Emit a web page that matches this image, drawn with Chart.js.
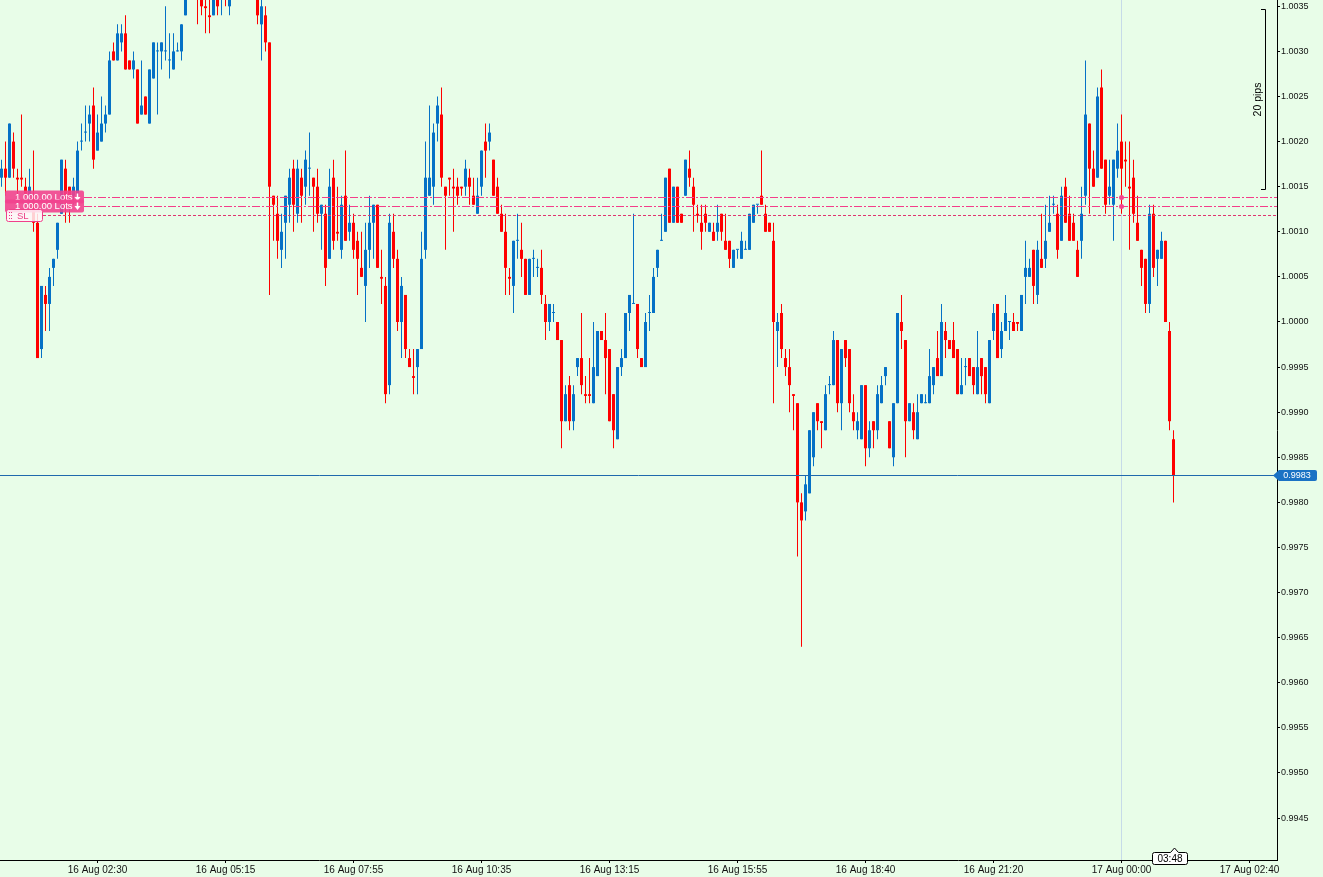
<!DOCTYPE html>
<html>
<head>
<meta charset="utf-8">
<title>candles</title>
<script src="https://cdn.jsdelivr.net/npm/chart.js@4.4.1/dist/chart.umd.min.js"></script>
<style>
html,body{margin:0;padding:0;background:#e8fde8;overflow:hidden;}
#wrap{width:1323px;height:877px;position:relative;}
</style>
</head>
<body>
<div id="wrap"><canvas id="myChart"></canvas></div>
<script>
'use strict';
// 5 min candles (index 0 = first candle on the left)
let open=[
1.0016,1.0017,1.0016,1.0020,1.0016,1.0016,1.0015,1.0014,1.0014,1.0011,
0.9997,1.0003,1.0002,1.0006,1.0008,1.0012,1.0017,1.0015,1.0014,1.0014,
1.0020,1.0021,1.0022,1.0024,1.0019,1.0020,1.0022,1.0023,1.0030,1.0029,
1.0031,1.0032,1.0029,1.0028,1.0028,1.0023,1.0025,1.0022,1.0027,1.0030,
1.0030,1.0030,1.0029,1.0028,1.0030,1.0030,1.0034,1.0037,1.0039,1.0038,
1.0037,1.0035,1.0034,1.0034,1.0037,1.0036,1.0038,1.0035,1.0038,1.0040,
1.0038,1.0040,1.0039,1.0038,1.0037,1.0033,1.0034,1.0031,1.0014,1.0012,
1.0008,1.0011,1.0013,1.0017,1.0012,1.0016,1.0015,1.0017,1.0016,1.0015,
1.0012,1.0012,1.0007,1.0016,1.0010,1.0008,1.0014,1.0010,1.0011,1.0009,
1.0006,1.0004,1.0008,1.0011,1.0013,1.0005,1.0004,0.9993,1.0010,1.0007,
1.0000,1.0003,0.9996,0.9994,0.9995,0.9997,1.0008,1.0014,1.0015,1.0022,
1.0023,1.0015,1.0016,1.0015,1.0015,1.0015,1.0015,1.0016,1.0014,1.0012,
1.0015,1.0020,1.0020,1.0018,1.0015,1.0012,1.0010,1.0005,1.0004,1.0009,
1.0008,1.0007,1.0003,1.0007,1.0006,1.0006,1.0002,1.0000,1.0001,1.0000,
0.9998,0.9989,0.9993,0.9989,0.9995,0.9996,0.9992,0.9992,0.9991,0.9994,
0.9999,0.9998,0.9997,0.9992,0.9987,0.9995,0.9996,1.0001,1.0002,1.0002,
0.9996,0.9995,1.0001,1.0001,1.0006,1.0009,1.0010,1.0017,1.0011,1.0015,
1.0012,1.0014,1.0017,1.0015,1.0012,1.0011,1.0012,1.0010,1.0010,1.0010,
1.0012,1.0009,1.0009,1.0006,1.0008,1.0007,1.0008,1.0008,1.0011,1.0013,
1.0014,1.0012,1.0011,1.0009,0.9999,1.0001,0.9996,0.9995,0.9992,0.9991,
0.9980,0.9979,0.9981,0.9985,0.9991,0.9989,0.9988,0.9993,0.9993,0.9998,
0.9991,0.9998,0.9997,0.9990,0.9988,0.9987,0.9993,0.9986,0.9989,0.9988,
0.9991,0.9994,0.9989,0.9985,0.9991,1.0000,0.9998,0.9989,0.9990,0.9987,
0.9991,0.9991,0.9991,0.9993,0.9996,0.9994,0.9999,0.9998,0.9998,0.9997,
0.9992,0.9995,0.9996,0.9995,0.9992,0.9996,0.9995,0.9991,0.9999,1.0002,
0.9997,0.9999,1.0000,1.0000,1.0000,0.9999,1.0005,1.0005,1.0008,1.0003,
1.0007,1.0007,1.0010,1.0013,1.0012,1.0009,1.0015,1.0012,1.0011,1.0008,
1.0009,1.0014,1.0022,1.0017,1.0016,1.0026,1.0018,1.0014,1.0013,1.0017,
1.0020,1.0018,1.0015,1.0016,1.0011,1.0008,1.0007,1.0002,1.0012,1.0007,
1.0007,1.0009,0.9999,0.9987];
let high=[
1.0018,1.0020,1.0022,1.0021,1.0017,1.0023,1.0016,1.0017,1.0019,1.0012,
1.0004,1.0004,1.0006,1.0007,1.0011,1.0018,1.0018,1.0015,1.0016,1.0020,
1.0022,1.0024,1.0024,1.0026,1.0023,1.0025,1.0024,1.0030,1.0031,1.0033,
1.0033,1.0034,1.0029,1.0030,1.0028,1.0029,1.0025,1.0028,1.0031,1.0031,
1.0031,1.0035,1.0032,1.0032,1.0031,1.0033,1.0037,1.0040,1.0040,1.0039,
1.0038,1.0037,1.0036,1.0038,1.0038,1.0039,1.0039,1.0039,1.0041,1.0041,
1.0041,1.0041,1.0040,1.0039,1.0038,1.0036,1.0035,1.0031,1.0014,1.0014,
1.0012,1.0014,1.0017,1.0018,1.0018,1.0017,1.0019,1.0021,1.0016,1.0017,
1.0013,1.0013,1.0017,1.0018,1.0015,1.0014,1.0019,1.0013,1.0012,1.0010,
1.0010,1.0011,1.0014,1.0013,1.0013,1.0008,1.0005,1.0012,1.0012,1.0008,
1.0005,1.0003,0.9997,0.9997,0.9997,1.0010,1.0020,1.0024,1.0022,1.0025,
1.0026,1.0015,1.0016,1.0017,1.0016,1.0015,1.0018,1.0017,1.0016,1.0016,
1.0019,1.0022,1.0022,1.0018,1.0016,1.0013,1.0012,1.0006,1.0009,1.0012,
1.0011,1.0007,1.0007,1.0008,1.0007,1.0008,1.0003,1.0002,1.0002,1.0000,
0.9998,0.9993,0.9994,0.9993,0.9996,1.0001,0.9994,0.9996,1.0000,0.9999,
0.9999,1.0001,0.9997,0.9992,0.9995,0.9997,1.0001,1.0003,1.0012,1.0002,
0.9996,1.0001,1.0003,1.0006,1.0008,1.0012,1.0016,1.0017,1.0015,1.0015,
1.0012,1.0018,1.0019,1.0016,1.0013,1.0013,1.0013,1.0011,1.0011,1.0013,
1.0012,1.0012,1.0009,1.0008,1.0008,1.0010,1.0009,1.0012,1.0013,1.0013,
1.0019,1.0013,1.0011,1.0011,1.0001,1.0002,0.9997,0.9997,0.9992,0.9991,
0.9981,0.9983,0.9988,0.9990,0.9991,0.9989,0.9993,0.9994,0.9999,0.9998,
0.9997,0.9998,0.9997,0.9992,0.9990,0.9993,0.9993,0.9989,0.9989,0.9993,
0.9994,0.9995,0.9989,0.9991,1.0001,1.0003,0.9998,0.9991,0.9991,0.9992,
0.9992,0.9992,0.9997,0.9995,0.9999,1.0002,1.0000,0.9998,1.0000,0.9997,
0.9996,0.9996,0.9996,0.9995,0.9999,0.9996,0.9995,0.9998,1.0002,1.0002,
1.0000,1.0003,1.0000,1.0001,1.0000,1.0003,1.0009,1.0007,1.0008,1.0009,
1.0012,1.0013,1.0014,1.0014,1.0013,1.0015,1.0016,1.0014,1.0012,1.0009,
1.0015,1.0029,1.0022,1.0019,1.0026,1.0028,1.0018,1.0018,1.0018,1.0022,
1.0023,1.0020,1.0020,1.0018,1.0014,1.0008,1.0007,1.0013,1.0013,1.0008,
1.0010,1.0009,1.0000,0.9988];
let low=[
1.0015,1.0014,1.0016,1.0016,1.0014,1.0015,1.0014,1.0013,1.0010,0.9996,
0.9996,0.9999,0.9999,1.0004,1.0007,1.0012,1.0011,1.0011,1.0013,1.0014,
1.0019,1.0020,1.0020,1.0017,1.0019,1.0020,1.0021,1.0023,1.0029,1.0029,
1.0030,1.0028,1.0028,1.0027,1.0022,1.0023,1.0023,1.0022,1.0027,1.0023,
1.0028,1.0029,1.0027,1.0028,1.0030,1.0029,1.0034,1.0036,1.0036,1.0033,
1.0034,1.0032,1.0032,1.0034,1.0034,1.0034,1.0035,1.0034,1.0037,1.0037,
1.0037,1.0037,1.0037,1.0036,1.0033,1.0029,1.0030,1.0003,1.0009,1.0007,
1.0006,1.0007,1.0011,1.0010,1.0011,1.0011,1.0013,1.0014,1.0010,1.0011,
1.0008,1.0004,1.0007,1.0008,1.0009,1.0007,1.0009,1.0009,1.0007,1.0003,
1.0005,1.0000,1.0006,1.0007,1.0006,1.0002,0.9991,0.9992,1.0006,0.9999,
0.9996,0.9996,0.9995,0.9992,0.9992,0.9997,1.0007,1.0014,1.0013,1.0020,
1.0015,1.0008,1.0014,1.0010,1.0013,1.0014,1.0014,1.0013,1.0013,1.0012,
1.0014,1.0016,1.0019,1.0014,1.0012,1.0010,1.0003,1.0003,1.0001,1.0007,
1.0005,1.0003,1.0003,1.0005,1.0005,1.0002,0.9998,0.9999,1.0000,0.9998,
0.9986,0.9989,0.9988,0.9988,0.9994,0.9992,0.9991,0.9991,0.9991,0.9994,
0.9998,0.9992,0.9989,0.9986,0.9987,0.9994,0.9996,0.9999,1.0002,0.9996,
0.9995,0.9995,0.9999,1.0001,1.0005,1.0009,1.0010,1.0011,1.0011,1.0011,
1.0011,1.0014,1.0015,1.0010,1.0011,1.0008,1.0010,1.0010,1.0009,1.0009,
1.0009,1.0008,1.0006,1.0006,1.0007,1.0007,1.0008,1.0008,1.0011,1.0012,
1.0013,1.0010,1.0010,0.9991,0.9995,0.9996,0.9994,0.9990,0.9988,0.9974,
0.9964,0.9978,0.9981,0.9984,0.9988,0.9986,0.9988,0.9992,0.9993,0.9990,
0.9988,0.9995,0.9990,0.9988,0.9987,0.9987,0.9984,0.9985,0.9986,0.9987,
0.9991,0.9993,0.9986,0.9984,0.9991,0.9997,0.9985,0.9989,0.9987,0.9987,
0.9991,0.9991,0.9991,0.9992,0.9994,0.9994,0.9996,0.9997,0.9996,0.9992,
0.9992,0.9993,0.9994,0.9992,0.9992,0.9992,0.9991,0.9991,0.9998,0.9996,
0.9996,0.9999,0.9998,0.9999,0.9999,0.9999,1.0002,1.0005,1.0002,1.0002,
1.0006,1.0006,1.0010,1.0012,1.0007,1.0009,1.0011,1.0009,1.0009,1.0005,
1.0007,1.0013,1.0012,1.0015,1.0016,1.0017,1.0012,1.0013,1.0009,1.0016,
1.0012,1.0015,1.0008,1.0011,1.0009,1.0004,1.0001,1.0001,1.0005,1.0004,
1.0007,1.0000,0.9988,0.9980];
let close=[
1.0017,1.0016,1.0022,1.0017,1.00158,1.00158,1.0014,1.0015,1.0011,0.9996,
1.0004,1.0002,1.0005,1.0007,1.0011,1.0018,1.0014,1.0014,1.0015,1.0019,
1.0020,1.0021,1.0023,1.0018,1.0021,1.0022,1.0023,1.0029,1.0029,1.0032,
1.0032,1.0028,1.0028,1.0029,1.0022,1.0024,1.0023,1.0028,1.0031,1.0030,
1.0031,1.0030,1.0029,1.0030,1.0030,1.0033,1.0036,1.0039,1.0038,1.0037,
1.0035,1.00348,1.00338,1.0037,1.0035,1.0038,1.0036,1.0038,1.0040,1.0038,
1.0040,1.0039,1.0038,1.0037,1.0034,1.0035,1.0031,1.0015,1.0013,1.0009,
1.0010,1.0014,1.0016,1.0013,1.0017,1.0014,1.0018,1.0017,1.0015,1.0012,
1.0013,1.0006,1.0015,1.0009,1.00098,1.0013,1.0009,1.0011,1.0008,1.0007,
1.0005,1.0008,1.0011,1.0013,1.0006,1.00048,0.9992,1.0011,1.0007,1.0000,
1.0004,0.9997,0.9995,0.99938,0.9997,1.0007,1.0016,1.0016,1.0021,1.0024,
1.0016,1.0014,1.00158,1.00148,1.0014,1.00148,1.0017,1.0015,1.0013,1.0014,
1.0019,1.0019,1.0021,1.0014,1.0012,1.0010,1.0006,1.00048,1.0009,1.0009,
1.0007,1.0003,1.0007,1.0007,1.0006,1.0003,1.0000,1.0002,1.0001,0.9998,
0.9989,0.9992,0.9989,0.9992,0.9996,0.9993,0.99918,0.99918,0.9995,0.9999,
0.9998,0.9996,0.9989,0.9988,0.9995,0.9996,1.0001,1.0003,1.0002,0.9997,
0.9995,1.0000,1.0001,1.0005,1.0008,1.0009,1.0016,1.0011,1.0015,1.0011,
1.0011,1.0018,1.0016,1.0013,1.00118,1.0010,1.0011,1.0011,1.0009,1.0011,
1.0010,1.0008,1.0007,1.0008,1.0008,1.0009,1.0008,1.0012,1.0013,1.0013,
1.0013,1.0010,1.0010,1.0000,1.0000,0.9997,0.9995,0.9993,0.99918,0.9980,
0.9978,0.9982,0.9988,0.9990,0.9989,0.99888,0.9992,0.9993,0.9998,0.9991,
0.9997,0.9996,0.9991,0.9989,0.9989,0.9993,0.9986,0.9988,0.9988,0.9992,
0.9993,0.9995,0.9986,0.9991,1.0001,0.9999,0.9989,0.9991,0.9988,0.9990,
0.9992,0.9991,0.9994,0.9995,0.9994,1.0000,0.9998,0.9997,0.9996,0.9992,
0.9993,0.9995,0.9994,0.9993,0.9995,0.9994,0.9992,0.9998,1.0001,0.9996,
0.9999,1.0001,1.0000,0.9999,0.99998,1.0003,1.0006,1.0006,1.0004,1.0008,
1.0006,1.0009,1.0011,1.0013,1.0008,1.0014,1.0011,1.0009,1.0009,1.0005,
1.0012,1.0023,1.0017,1.0015,1.0025,1.0017,1.0013,1.0015,1.0018,1.0019,
1.0017,1.00178,1.00148,1.0012,1.0009,1.0006,1.0002,1.0012,1.0006,1.0008,
1.0009,1.0000,0.9989,0.9983];

let tickIdx=[24,56,88,120,152,184,216,248,280,312];
let tickText=['16 Aug 02:30','16 Aug 05:15','16 Aug 07:55','16 Aug 10:35','16 Aug 13:15',
  '16 Aug 15:55','16 Aug 18:40','16 Aug 21:20','17 Aug 00:00','17 Aug 02:40'];
let orderLevels=[1.00139,1.00129];
let stopLevel=1.00119;
let lastPrice=close[close.length-1];
let dayBreak=280;
let countdown='03:48';
let lotsText='1 000.00 Lots';

let upColor='#0571c6';
let downColor='#ff0000';
let idx=open.map((v,i)=>i);
let colors=idx.map(i=>close[i]>=open[i]?upColor:downColor);

function downArrow(ctx,x,y){
  ctx.fillRect(x-0.75,y-4,1.5,4);
  ctx.beginPath();
  ctx.moveTo(x-3,y-0.5);ctx.lineTo(x+3,y-0.5);ctx.lineTo(x,y+3.5);
  ctx.closePath();ctx.fill();
}

function roundRect(ctx,x,y,w,h,r){
  ctx.beginPath();
  ctx.moveTo(x+r,y);ctx.lineTo(x+w-r,y);ctx.quadraticCurveTo(x+w,y,x+w,y+r);
  ctx.lineTo(x+w,y+h-r);ctx.quadraticCurveTo(x+w,y+h,x+w-r,y+h);
  ctx.lineTo(x+r,y+h);ctx.quadraticCurveTo(x,y+h,x,y+h-r);
  ctx.lineTo(x,y+r);ctx.quadraticCurveTo(x,y,x+r,y);
  ctx.closePath();
}

const overlay={
  id:'overlay',
  beforeDatasetsDraw(chart){
    let {ctx,chartArea:a,scales:{x}}=chart;
    let px=Math.round(x.getPixelForValue(dayBreak)-0.5)+0.5;
    ctx.save();
    ctx.strokeStyle='#c6dbe8';
    ctx.lineWidth=1;
    ctx.beginPath();ctx.moveTo(px,a.top);ctx.lineTo(px,a.bottom);ctx.stroke();
    ctx.restore();
  },
  afterDatasetsDraw(chart){
    let {ctx,chartArea:a,scales:{x,y}}=chart;
    ctx.save();
    ctx.beginPath();ctx.rect(a.left,a.top,a.right-a.left,a.bottom-a.top);ctx.clip();
    ctx.lineWidth=1;
    function hline(p,color,dash,x0){
      let py=Math.round(y.getPixelForValue(p))+0.5;
      ctx.strokeStyle=color;ctx.setLineDash(dash);
      ctx.beginPath();ctx.moveTo(x0,py);ctx.lineTo(a.right,py);ctx.stroke();
      return py;
    }
    let p1=hline(orderLevels[0],'#f43d8a',[8,2,2,2],84);
    let p2=hline(orderLevels[1],'#f43d8a',[8,2,2,2],84);
    hline(stopLevel,'#e0356f',[3,2],43);
    hline(lastPrice,'#1f69ad',[],0);
    ctx.setLineDash([]);
    // little markers where the orders were opened
    let mx=x.getPixelForValue(dayBreak);
    ctx.fillStyle='#f4468f';
    [p1,p2].forEach(py=>{ctx.beginPath();ctx.arc(mx,py,2.5,0,Math.PI*2);ctx.fill();});
    ctx.restore();
  },
  afterDraw(chart){
    let {ctx,scales:{x,y}}=chart;
    ctx.save();
    // 20 pips ruler
    let r0=Math.round(y.getPixelForValue(1.00347))+0.5;
    let r1=Math.round(y.getPixelForValue(1.00147))+0.5;
    ctx.strokeStyle='#000';ctx.lineWidth=1;
    ctx.beginPath();ctx.moveTo(1261,r0);ctx.lineTo(1265.5,r0);ctx.lineTo(1265.5,r1);ctx.lineTo(1261,r1);ctx.stroke();
    ctx.save();
    ctx.translate(1258.5,(r0+r1)/2);ctx.rotate(-Math.PI/2);
    ctx.fillStyle='#000';ctx.font='10.5px "Liberation Sans"';
    ctx.textAlign='center';ctx.textBaseline='middle';
    ctx.fillText('20 pips',0,0);
    ctx.restore();

    // order labels on the left
    let l1=Math.round(y.getPixelForValue(orderLevels[0]))+0.5;
    let l2=Math.round(y.getPixelForValue(orderLevels[1]))+0.5;
    let l3=Math.round(y.getPixelForValue(stopLevel))+0.5;
    ctx.font='9.5px "Liberation Sans"';
    ctx.textBaseline='middle';ctx.textAlign='left';
    [l1,l2].forEach(py=>{
      ctx.fillStyle='rgba(242,66,142,0.9)';
      roundRect(ctx,5,py-7,79,13,2);ctx.fill();
      ctx.fillStyle='#fff';
      ctx.fillText(lotsText,15,py);
      downArrow(ctx,77.5,py);
    });
    ctx.fillStyle='rgba(255,244,248,0.85)';
    ctx.strokeStyle='#f0408a';
    roundRect(ctx,6.5,l3-6,36,12,2);ctx.fill();ctx.stroke();
    ctx.fillStyle='#ec3d86';
    ctx.fillText('SL',17,l3+0.5);
    for(let gy=-3;gy<=3;gy+=3){ctx.fillRect(9,l3+gy-0.5,1,1);ctx.fillRect(11,l3+gy-0.5,1,1);}

    // current price tag on the axis
    let py=Math.round(y.getPixelForValue(lastPrice))+0.5;
    ctx.fillStyle='#1a72c4';
    ctx.beginPath();
    ctx.moveTo(1273,py);ctx.lineTo(1279,py-5.5);ctx.lineTo(1315,py-5.5);
    ctx.quadraticCurveTo(1317,py-5.5,1317,py-3.5);ctx.lineTo(1317,py+3.5);
    ctx.quadraticCurveTo(1317,py+5.5,1315,py+5.5);ctx.lineTo(1279,py+5.5);
    ctx.closePath();ctx.fill();
    ctx.fillStyle='#fff';ctx.font='9px "Liberation Sans"';ctx.textAlign='center';
    ctx.fillText(lastPrice.toFixed(4),1297,py+0.5);

    // candle countdown box
    let cx=Math.round(x.getPixelForValue(open.length-1))+0.5;
    ctx.fillStyle='#fff';ctx.strokeStyle='#000';
    ctx.beginPath();
    ctx.moveTo(1154.5,852.5);ctx.lineTo(cx-4,852.5);ctx.lineTo(cx,848);ctx.lineTo(cx+4,852.5);
    ctx.lineTo(1185.5,852.5);ctx.quadraticCurveTo(1187.5,852.5,1187.5,854.5);
    ctx.lineTo(1187.5,862.5);ctx.quadraticCurveTo(1187.5,864.5,1185.5,864.5);
    ctx.lineTo(1154.5,864.5);ctx.quadraticCurveTo(1152.5,864.5,1152.5,862.5);
    ctx.lineTo(1152.5,854.5);ctx.quadraticCurveTo(1152.5,852.5,1154.5,852.5);
    ctx.closePath();ctx.fill();ctx.stroke();
    ctx.fillStyle='#000';ctx.font='10px "Liberation Sans"';
    ctx.fillText(countdown,1170,859);
    ctx.restore();
  }
};

let ctx=document.getElementById('myChart').getContext('2d');
let myChart=new Chart(ctx,{
  type:'bar',
  data:{
    datasets:[{
      label:'body',
      data:idx.map(i=>({x:i,y:[open[i],close[i]]})),
      backgroundColor:colors,
      grouped:false,
      barPercentage:1,categoryPercentage:1,maxBarThickness:3,
      minBarLength:1,inflateAmount:0
    },{
      label:'wick',
      data:idx.map(i=>({x:i,y:[low[i],high[i]]})),
      backgroundColor:colors,
      grouped:false,
      barPercentage:1,categoryPercentage:1,maxBarThickness:1,
      inflateAmount:0
    }]
  },
  options:{
    responsive:true,
    maintainAspectRatio:false,
    animation:false,
    devicePixelRatio:1,
    layout:{padding:0},
    plugins:{legend:{display:false},tooltip:{enabled:false}},
    scales:{
      x:{
        type:'linear',
        offset:false,
        min:-0.375,max:318.875,
        afterFit(s){s.height=17;s.paddingLeft=0;s.paddingRight=0;},
        afterBuildTicks(s){s.ticks=tickIdx.map(v=>({value:v}));},
        grid:{offset:false,drawOnChartArea:false,drawTicks:true,tickLength:3,color:'#000'},
        border:{display:true,color:'#000'},
        ticks:{
          autoSkip:false,maxRotation:0,padding:1,color:'#111',
          font:{family:'Liberation Sans',size:10},
          callback:(v)=>{let k=tickIdx.indexOf(v);return k<0?'':tickText[k];}
        }
      },
      y:{
        type:'linear',
        position:'right',
        stacked:false,
        min:0.994035,max:1.00357,
        afterFit(s){s.width=46;s.paddingTop=0;s.paddingBottom=0;},
        grid:{drawOnChartArea:false,drawTicks:true,tickLength:3,color:'#000'},
        border:{display:true,color:'#000'},
        ticks:{
          stepSize:0.0005,includeBounds:false,padding:1,color:'#111',
          font:{family:'Liberation Sans',size:9},
          callback:(v)=>v.toFixed(4)
        }
      }
    }
  },
  plugins:[overlay]
});
</script>
</body>
</html>
